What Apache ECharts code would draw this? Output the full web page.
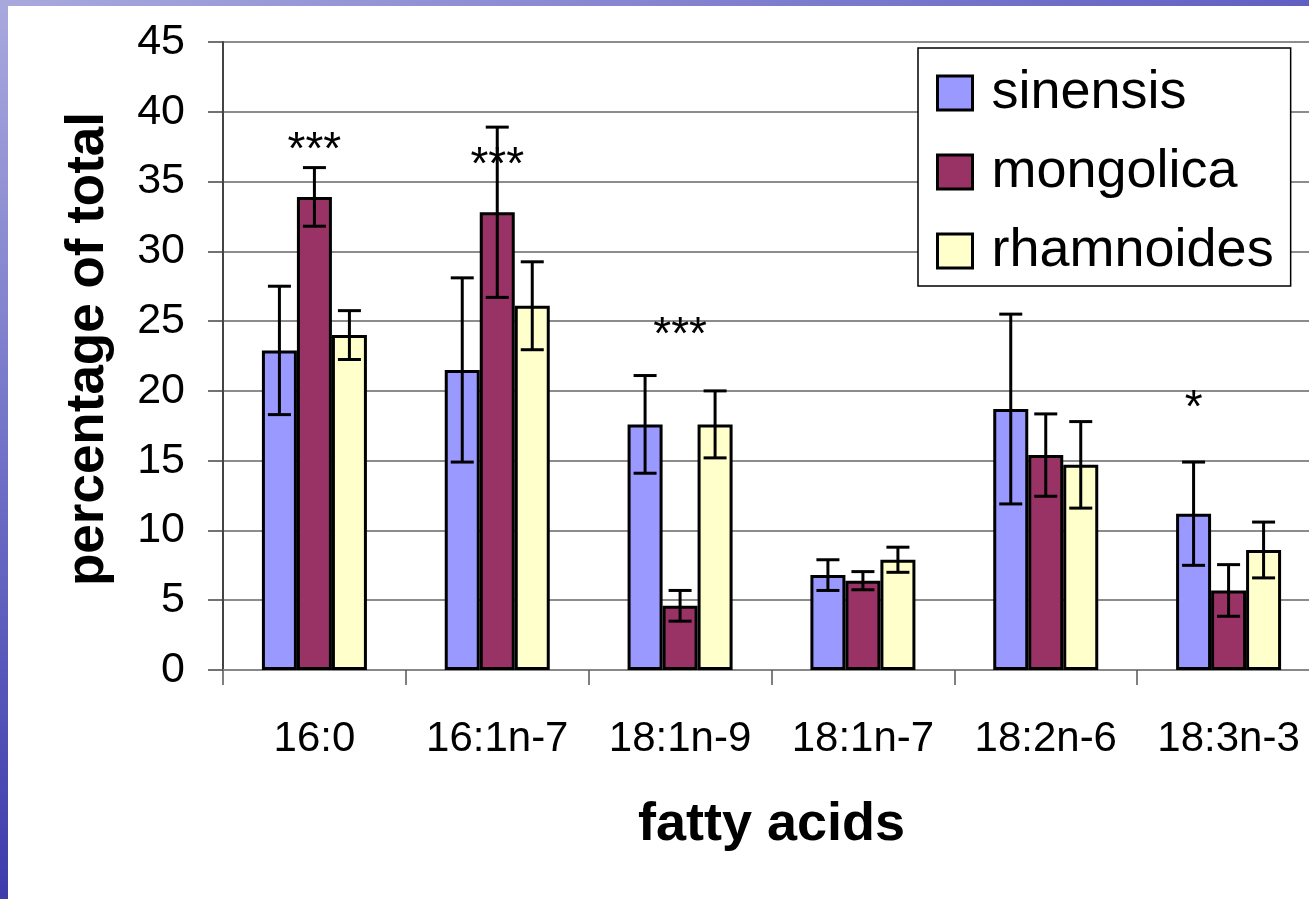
<!DOCTYPE html>
<html>
<head>
<meta charset="utf-8">
<script src="https://cdn.jsdelivr.net/npm/echarts@6/dist/echarts.min.js"></script>
<style>
  html, body { margin: 0; padding: 0; overflow: hidden; background: #fff; }
  #chart { width: 1340px; height: 899px; }
</style>
</head>
<body>
<div id="chart"></div>
<script>
// Fatty acid composition (percentage of total) for three Hippophae subspecies
const categories = ['16:0', '16:1n-7', '18:1n-9', '18:1n-7', '18:2n-6', '18:3n-3'];

const sinensis      = [22.9, 21.5, 17.6, 6.8, 18.7, 11.2];
const sinensisSD    = [4.6, 6.6, 3.5, 1.1, 6.8, 3.7];
const mongolica     = [33.9, 32.8, 4.6, 6.4, 15.4, 5.7];
const mongolicaSD   = [2.1, 6.1, 1.1, 0.65, 2.95, 1.85];
const rhamnoides    = [24.0, 26.1, 17.6, 7.9, 14.7, 8.6];
const rhamnoidesSD  = [1.75, 3.15, 2.4, 0.9, 3.1, 2.0];

const yTicks = [0, 5, 10, 15, 20, 25, 30, 35, 40, 45];

// Significance markers: category, series they sit over, level on the y scale, text
const sigCats   = ['16:0', '16:1n-7', '18:1n-9', '18:3n-3'];
const sigSeries = [1, 1, 1, 0];
const sigLevels = [37.2, 36.1, 23.9, 18.7];
const sigTexts  = ['***', '***', '***', '*'];

const seriesNames = ['sinensis', 'mongolica', 'rhamnoides'];
const seriesValues = [sinensis, mongolica, rhamnoides];
const seriesSD = [sinensisSD, mongolicaSD, rhamnoidesSD];
const seriesColors = ['#9999FF', '#993366', '#FFFFCC'];

const FONT = '"Liberation Sans", Arial, sans-serif';
const BAR_W = 35;

const chart = echarts.init(document.getElementById('chart'), null, { renderer: 'canvas' });

function barSeries(i) {
  return {
    type: 'bar',
    name: seriesNames[i],
    data: seriesValues[i],
    barWidth: BAR_W,
    barGap: '0%',
    z: 2,
    itemStyle: { color: seriesColors[i], borderColor: '#000', borderWidth: 3 }
  };
}

// Error bars (mean ± SD) centred on each bar of series i
function errorSeries(i) {
  return {
    type: 'custom',
    name: seriesNames[i] + ' SD',
    silent: true,
    z: 5,
    data: seriesValues[i].map((v, k) => [k, v, seriesSD[i][k]]),
    renderItem(params, api) {
      const c = api.value(0), v = api.value(1), e = api.value(2);
      const top = api.coord([c, v + e]);
      const bot = api.coord([c, v - e]);
      const x = top[0] + (i - 1) * BAR_W;
      const half = 11.5;
      const st = { stroke: '#000', lineWidth: 3 };
      return {
        type: 'group',
        children: [
          { type: 'line', shape: { x1: x, y1: top[1], x2: x, y2: bot[1] }, style: st },
          { type: 'line', shape: { x1: x - half, y1: top[1], x2: x + half, y2: top[1] }, style: st },
          { type: 'line', shape: { x1: x - half, y1: bot[1], x2: x + half, y2: bot[1] }, style: st }
        ]
      };
    }
  };
}

const sigSeriesDef = {
  type: 'custom',
  name: 'significance',
  silent: true,
  z: 6,
  data: sigCats.map((c, k) => [categories.indexOf(c), sigLevels[k]]),
  renderItem(params, api) {
    const k = params.dataIndex;
    const p = api.coord([api.value(0), api.value(1)]);
    return {
      type: 'text',
      style: {
        x: p[0] + (sigSeries[k] - 1) * BAR_W,
        y: p[1],
        text: sigTexts[k],
        fill: '#000',
        font: '46px ' + FONT,
        align: 'center',
        verticalAlign: 'middle'
      }
    };
  }
};

const option = {
  backgroundColor: '#fff',
  animation: false,
  graphic: [
    {
      type: 'rect', left: 0, top: 0, z: -10,
      shape: { width: 1340, height: 6 },
      style: {
        fill: new echarts.graphic.LinearGradient(0, 0, 1, 0, [
          { offset: 0, color: '#a9a9de' },
          { offset: 1, color: '#5e5ec2' }
        ])
      }
    },
    {
      type: 'rect', left: 0, top: 0, z: -10,
      shape: { width: 8, height: 899 },
      style: {
        fill: new echarts.graphic.LinearGradient(0, 0, 0, 1, [
          { offset: 0, color: '#a9a9de' },
          { offset: 0.5, color: '#7272c8' },
          { offset: 1, color: '#3c3cac' }
        ])
      }
    }
  ],
  grid: { left: 223, top: 42, width: 1097, height: 628, containLabel: false },
  legend: {
    data: seriesNames,
    orient: 'vertical',
    left: 918,
    top: 48,
    padding: [18, 17, 8, 18],
    itemWidth: 35,
    itemHeight: 34,
    itemGap: 25,
    backgroundColor: '#fff',
    borderColor: '#000',
    borderWidth: 1.5,
    borderRadius: 0,
    itemStyle: { borderColor: '#000', borderWidth: 3 },
    textStyle: { fontFamily: FONT, fontSize: 54, color: '#000', padding: [0, 0, 0, 14] },
    icon: 'rect'
  },
  xAxis: {
    type: 'category',
    data: categories,
    name: 'fatty acids',
    nameLocation: 'middle',
    nameGap: 128,
    nameTextStyle: { fontFamily: FONT, fontSize: 54, fontWeight: 'bold', color: '#000' },
    axisLine: { show: true, lineStyle: { color: '#888', width: 2 } },
    axisTick: { show: true, interval: 0, length: 15, lineStyle: { color: '#555', width: 1.5 } },
    axisLabel: { interval: 0, fontFamily: FONT, fontSize: 42, color: '#000', margin: 48, hideOverlap: false },
    splitLine: { show: false }
  },
  yAxis: {
    type: 'value',
    min: 0,
    max: 45,
    interval: 5,
    name: 'percentage of total',
    nameLocation: 'middle',
    nameGap: 108,
    nameTextStyle: { fontFamily: FONT, fontSize: 53, fontWeight: 'bold', color: '#000', padding: [0, 0, 0, 14] },
    axisLine: { show: true, lineStyle: { color: '#444', width: 2 } },
    axisTick: { show: true, length: 15, lineStyle: { color: '#444', width: 1.5 } },
    axisLabel: {
      fontFamily: FONT, fontSize: 43, color: '#000', margin: 38,
      formatter: v => (yTicks.indexOf(v) >= 0 ? String(v) : '')
    },
    splitLine: { show: true, lineStyle: { color: '#666', width: 1.5 } }
  },
  series: [
    barSeries(0), barSeries(1), barSeries(2),
    errorSeries(0), errorSeries(1), errorSeries(2),
    sigSeriesDef
  ]
};

chart.setOption(option);
</script>
</body>
</html>
